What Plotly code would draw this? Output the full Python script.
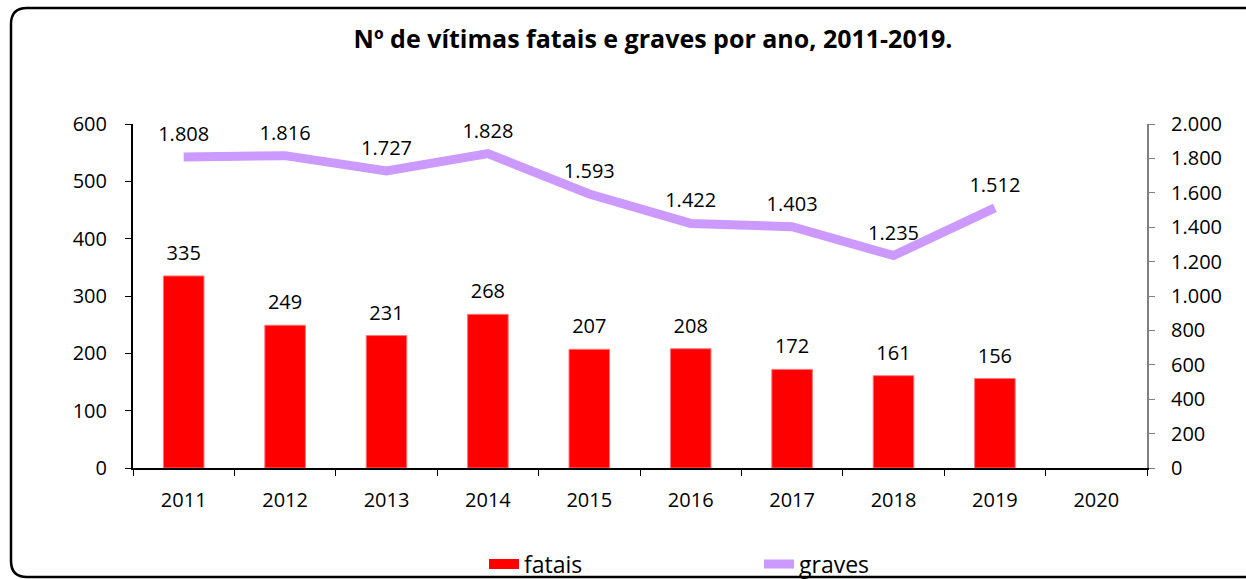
import plotly.graph_objects as go

years = ["2011", "2012", "2013", "2014", "2015", "2016", "2017", "2018", "2019", "2020"]
fatais = [335, 249, 231, 268, 207, 208, 172, 161, 156, None]
graves = [1808, 1816, 1727, 1828, 1593, 1422, 1403, 1235, 1512, None]

FONT = "Open Sans"
W, H = 1246, 579
L, R, T, B = 133, 99, 124, 111

def fmt(v):
    return "" if v is None else f"{v:,}".replace(",", ".")

fig = go.Figure()
fig.add_trace(go.Bar(
    x=years, y=fatais, name="fatais", marker=dict(color="#FF0000", line=dict(color="#FF7777", width=1)),
    width=0.4, yaxis="y", showlegend=False, hoverinfo="skip",
))
fig.add_trace(go.Scatter(
    x=years, y=graves, name="graves", mode="lines", yaxis="y2",
    line=dict(color="#CC99FF", width=9), connectgaps=False, showlegend=False, hoverinfo="skip",
))
# data labels
fig.add_trace(go.Scatter(
    x=years, y=fatais, mode="markers+text", text=[fmt(v) for v in fatais], textposition="top center",
    marker=dict(size=16, opacity=0), textfont=dict(family=FONT, size=20, color="#000"),
    yaxis="y", showlegend=False, hoverinfo="skip", cliponaxis=False,
))
fig.add_trace(go.Scatter(
    x=years, y=graves, mode="markers+text", text=[fmt(v) for v in graves], textposition="top center",
    marker=dict(size=16, opacity=0), textfont=dict(family=FONT, size=20, color="#000"),
    yaxis="y2", showlegend=False, hoverinfo="skip", cliponaxis=False,
))
# legend entries
fig.add_trace(go.Scatter(x=[None], y=[None], mode="lines", name="fatais",
                         line=dict(color="#FF0000", width=15), yaxis="y"))
fig.add_trace(go.Scatter(x=[None], y=[None], mode="lines", name="graves",
                         line=dict(color="#CC99FF", width=9), yaxis="y2"))

pw, ph = W - L - R, H - T - B
def px(x): return (x - L) / pw
def py(y): return (H - B - y) / ph

x0, xr = px(11), px(1250)
yt, yb = py(8), py(577)
rx, ry = 16 / pw, 16 / ph
path = (f"M {xr},{yt} L {x0+rx},{yt} Q {x0},{yt} {x0},{yt-ry} "
        f"L {x0},{yb+ry} Q {x0},{yb} {x0+rx},{yb} L {xr},{yb}")

fig.update_layout(
    width=W, height=H,
    margin=dict(l=L, r=R, t=T, b=B, autoexpand=False),
    paper_bgcolor="white", plot_bgcolor="white",
    separators=",.",
    font=dict(family=FONT, size=20, color="#000"),
    title=dict(text="<b>Nº de vítimas fatais e graves por ano, 2011-2019.</b>", x=653 / W, xanchor="center",
               y=1 - 39 / H, yanchor="middle", font=dict(family=FONT, size=25, color="#000")),
    xaxis=dict(type="category", tickson="boundaries", ticks="outside", ticklen=6, tickcolor="#000",
               showline=True, linecolor="#000", linewidth=2, showgrid=False, range=[-0.5, 9.5],
               tickfont=dict(family=FONT, size=20), ticklabelstandoff=13),
    yaxis=dict(range=[0, 600], dtick=100, ticks="outside", ticklen=6, tickcolor="#000",
               showline=True, linecolor="#000", linewidth=2, showgrid=False, zeroline=False,
               tickfont=dict(family=FONT, size=20), ticklabelstandoff=14),
    yaxis2=dict(range=[0, 2000], dtick=200, overlaying="y", side="right", ticks="outside", ticklen=6,
                tickcolor="#808080", showline=True, linecolor="#808080", linewidth=2, showgrid=False,
                zeroline=False, tickformat=",d", tickfont=dict(family=FONT, size=20), ticklabelstandoff=12),
    legend=dict(orientation="h", x=px(484), xanchor="left", y=py(564), yanchor="middle",
                entrywidth=230, entrywidthmode="pixels", font=dict(family=FONT, size=23),
                bgcolor="rgba(0,0,0,0)"),
    shapes=[dict(type="path", path=path, xref="paper", yref="paper", line=dict(color="#000", width=2.5),
                 layer="above")],
)

fig.write_html("out.html", config={"displayModeBar": False},
               post_script="document.body.style.margin='0';document.body.style.overflow='hidden';")
